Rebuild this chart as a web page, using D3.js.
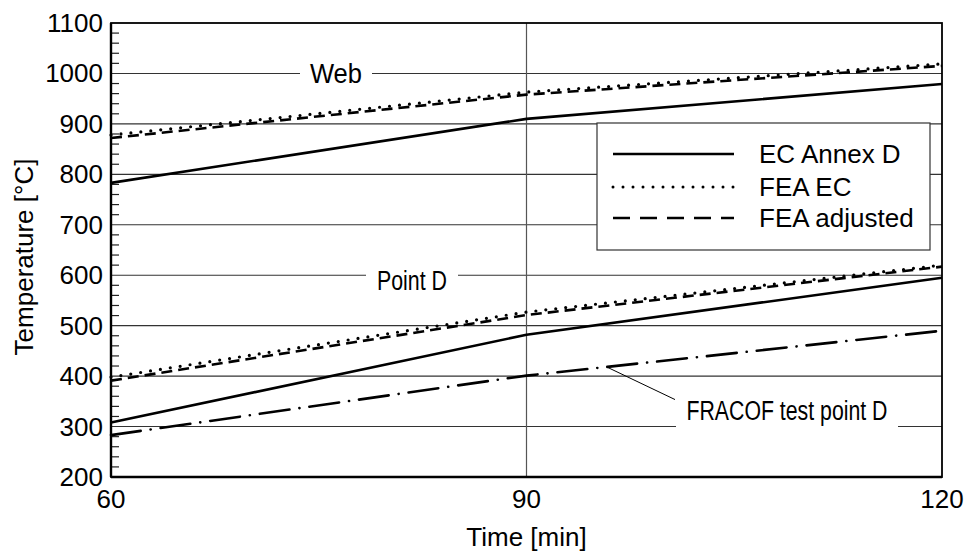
<!DOCTYPE html>
<html>
<head>
<meta charset="utf-8">
<script src="https://cdn.jsdelivr.net/npm/d3@7.9.0/dist/d3.min.js"></script>
<style>
  body { margin: 0; background: #fff; }
  svg { display: block; font-family: "Liberation Sans", Arial, sans-serif; }
</style>
</head>
<body>
<svg width="967" height="554"></svg>
<script>
// === data ===
const times = [60, 90, 120];
const webEC = [783, 910, 979];
const webFEA = [878, 963, 1019];
const webFEAadj = [872, 958, 1015];
const ptdEC = [308, 482, 595];
const ptdFEA = [398, 527, 620];
const ptdFEAadj = [391, 521, 617];
const fracof = [283, 401, 490];
const yTicks = [200, 300, 400, 500, 600, 700, 800, 900, 1000, 1100];
const xTicks = [60, 90, 120];
const legendNames = ['EC Annex D', 'FEA EC', 'FEA adjusted'];

const svg = d3.select('svg');
const L = 111, R = 942, T = 23, B = 477;

const x = d3.scaleLinear().domain([60, 120]).range([L, R]);
const y = d3.scaleLinear().domain([200, 1100]).range([B, T]);

// line styles
const styles = {
  solid: { dash: null, width: 2.6, cap: 'butt' },
  dotted: { dash: '0,10', width: 3.2, cap: 'round' },
  dashed: { dash: '11,6', width: 2.6, cap: 'butt' },
  dashdot: { dash: '30,10,0.1,10', width: 2.6, cap: 'round' }
};

// --- grid ---
const grid = svg.append('g');
yTicks.filter(v => v > 200 && v < 1100).forEach(v => {
  grid.append('line')
    .attr('x1', L).attr('x2', R).attr('y1', y(v)).attr('y2', y(v))
    .attr('stroke', '#333').attr('stroke-width', 1.1);
});
grid.append('line')
  .attr('x1', x(90)).attr('x2', x(90)).attr('y1', T).attr('y2', B)
  .attr('stroke', '#555').attr('stroke-width', 1.2);

// minor ticks on y (every 20), inside plot
d3.range(220, 1100, 20).filter(v => v % 100 !== 0).forEach(v => {
  grid.append('line')
    .attr('x1', L).attr('x2', L + 8).attr('y1', y(v)).attr('y2', y(v))
    .attr('stroke', '#222').attr('stroke-width', 1.2);
});

// --- annotation labels breaking the grid lines (condensed text) ---
function gapLabel(text, cx, baseline, width, halfGap, lineY) {
  svg.append('rect')
    .attr('x', cx - halfGap).attr('y', lineY - 3)
    .attr('width', halfGap * 2).attr('height', 6)
    .attr('fill', '#fff');
  svg.append('text')
    .attr('x', cx - width / 2).attr('y', baseline)
    .attr('font-size', 27)
    .attr('textLength', width)
    .attr('lengthAdjust', 'spacingAndGlyphs')
    .text(text);
}
gapLabel('Web', 336, y(1000) + 10, 52, 36, y(1000));
gapLabel('Point D', 412, y(600) + 15, 70, 46, y(600));
gapLabel('FRACOF test point D', 787, y(300) - 7, 201, 111, y(300));

// leader line for FRACOF
svg.append('line')
  .attr('x1', x(95.8)).attr('y1', y(418))
  .attr('x2', 675).attr('y2', y(300) - 27)
  .attr('stroke', '#000').attr('stroke-width', 1);

// --- series ---
const line = d3.line().x((d, i) => x(times[i])).y(d => y(d));
const series = [
  [webFEAadj, 'dashed'], [webFEA, 'dotted'], [webEC, 'solid'],
  [ptdFEAadj, 'dashed'], [ptdFEA, 'dotted'], [ptdEC, 'solid'],
  [fracof, 'dashdot']
];
series.forEach(([vals, s]) => {
  const st = styles[s];
  svg.append('path')
    .attr('d', line(vals))
    .attr('fill', 'none')
    .attr('stroke', '#000')
    .attr('stroke-width', st.width)
    .attr('stroke-linecap', st.cap)
    .attr('stroke-dasharray', st.dash);
});

// --- frame ---
svg.append('rect')
  .attr('x', L).attr('y', T).attr('width', R - L).attr('height', B - T)
  .attr('fill', 'none').attr('stroke', '#000').attr('stroke-width', 1.8);
svg.append('line').attr('x1', L).attr('x2', L).attr('y1', T).attr('y2', B)
  .attr('stroke', '#000').attr('stroke-width', 2.4);
svg.append('line').attr('x1', L).attr('x2', R).attr('y1', B).attr('y2', B)
  .attr('stroke', '#000').attr('stroke-width', 2.4);

// --- tick labels ---
yTicks.forEach(v => {
  svg.append('text')
    .attr('x', L - 8).attr('y', y(v) + 9)
    .attr('text-anchor', 'end')
    .attr('font-size', 26)
    .text(v);
});
xTicks.forEach(v => {
  svg.append('text')
    .attr('x', x(v)).attr('y', B + 31)
    .attr('text-anchor', 'middle')
    .attr('font-size', 26)
    .text(v);
});

// axis titles
svg.append('text')
  .attr('x', x(90)).attr('y', 546)
  .attr('text-anchor', 'middle')
  .attr('font-size', 26)
  .text('Time [min]');
svg.append('text')
  .attr('transform', `translate(33, ${(T + B) / 2 + 7}) rotate(-90)`)
  .attr('text-anchor', 'middle')
  .attr('font-size', 26)
  .text('Temperature [°C]');

// --- legend ---
const lg = svg.append('g');
lg.append('rect')
  .attr('x', 597).attr('y', 123).attr('width', 333).attr('height', 127)
  .attr('fill', '#fff').attr('stroke', '#333').attr('stroke-width', 1.2);
const legendStyles = [
  { dash: null, width: 2.6, cap: 'butt' },
  { dash: '0,10', width: 3, cap: 'round' },
  { dash: '17,10', width: 2.6, cap: 'butt' }
];
const rowY = [154, 187, 218];
legendNames.forEach((name, i) => {
  const st = legendStyles[i];
  lg.append('line')
    .attr('x1', 613).attr('x2', 734).attr('y1', rowY[i]).attr('y2', rowY[i])
    .attr('stroke', '#000')
    .attr('stroke-width', st.width)
    .attr('stroke-linecap', st.cap)
    .attr('stroke-dasharray', st.dash);
  lg.append('text')
    .attr('x', 759).attr('y', rowY[i] + 9)
    .attr('font-size', 26)
    .text(name);
});
</script>
</body>
</html>
